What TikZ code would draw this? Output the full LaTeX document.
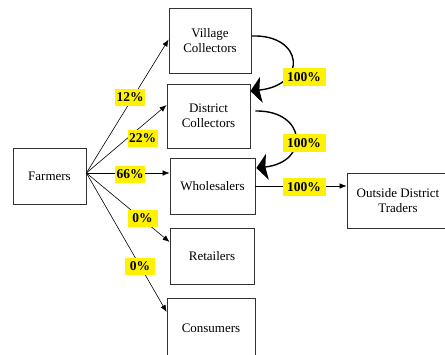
\documentclass[tikz,border=0pt]{standalone}
\usepackage{fontspec}
\setmainfont{Liberation Serif}
\usetikzlibrary{arrows.meta}
\begin{document}
\begin{tikzpicture}[x=1pt,y=-1pt,
  box/.style={draw=black!80,line width=0.8pt,align=center,inner sep=0pt,font=\fontsize{13}{15}\selectfont},
  pct/.style={fill=yellow,inner sep=0pt,minimum width=30pt,minimum height=17pt,font=\bfseries\fontsize{13.5}{15}\selectfont},
  pctw/.style={pct,minimum width=43pt,minimum height=18pt},
  thin arrow/.style={line width=0.6pt,-{Latex[length=7pt,width=5.5pt]}},
  big arrow/.style={line width=1.4pt,-{Stealth[length=11pt,width=26pt,inset=2pt]}}]
\useasboundingbox (0,0) rectangle (445,354);
% boxes
\node[box,minimum width=82pt,minimum height=65pt] (vil) at (210,40.5) {Village\\Collectors};
\node[box,minimum width=83pt,minimum height=64pt] (dis) at (208.5,116) {District\\Collectors};
\node[box,minimum width=73pt,minimum height=56pt] (far) at (49.5,176) {Farmers};
\node[box,minimum width=85pt,minimum height=56pt] (who) at (212.5,186) {Wholesalers};
\node[box,minimum width=102pt,minimum height=55pt] (out) at (398,200.5) {Outside District\\Traders};
\node[box,minimum width=84pt,minimum height=56pt] (ret) at (212,256) {Retailers};
\node[box,minimum width=88pt,minimum height=60pt] (con) at (211,328) {Consumers};
% thin connectors from Farmers
\coordinate (src) at ([yshift=3pt]far.east);
\draw[thin arrow] (src) -- ([yshift=1pt]vil.west);
\draw[thin arrow] (src) -- ([yshift=11pt]dis.west);
\draw[thin arrow] (src) -- ([yshift=13pt]who.west);
\draw[thin arrow] (src) -- ([yshift=14pt]ret.west);
\draw[thin arrow] (src) -- ([yshift=16pt]con.west);
% curved connectors
\draw[big arrow] ([yshift=4.5pt]vil.east) .. controls +(52,-2) and +(58,-6) .. ([yshift=25pt]dis.east);
\draw[big arrow] ([xshift=5pt,yshift=5pt]dis.east) .. controls +(51,-1) and +(54,-6) .. ([xshift=1pt,yshift=18pt]who.east);
\draw[thin arrow] (who.east) -- (who.east -| out.west);
% labels
\node[pct] (l12) at (130,97) {12\%};
\node[pct] (l22) at (142.5,138.5) {22\%};
\node[pct] (l66) at (130,174.5) {66\%};
\node[pct] (l0r) at (142.5,218.5) {0\%};
\node[pct] (l0c) at (140,266.5) {0\%};
\node[pctw] (h1) at (304,77) {100\%};
\node[pctw] (h2) at (304,143) {100\%};
\node[pctw] (h3) at (304,187) {100\%};
\end{tikzpicture}
\end{document}
